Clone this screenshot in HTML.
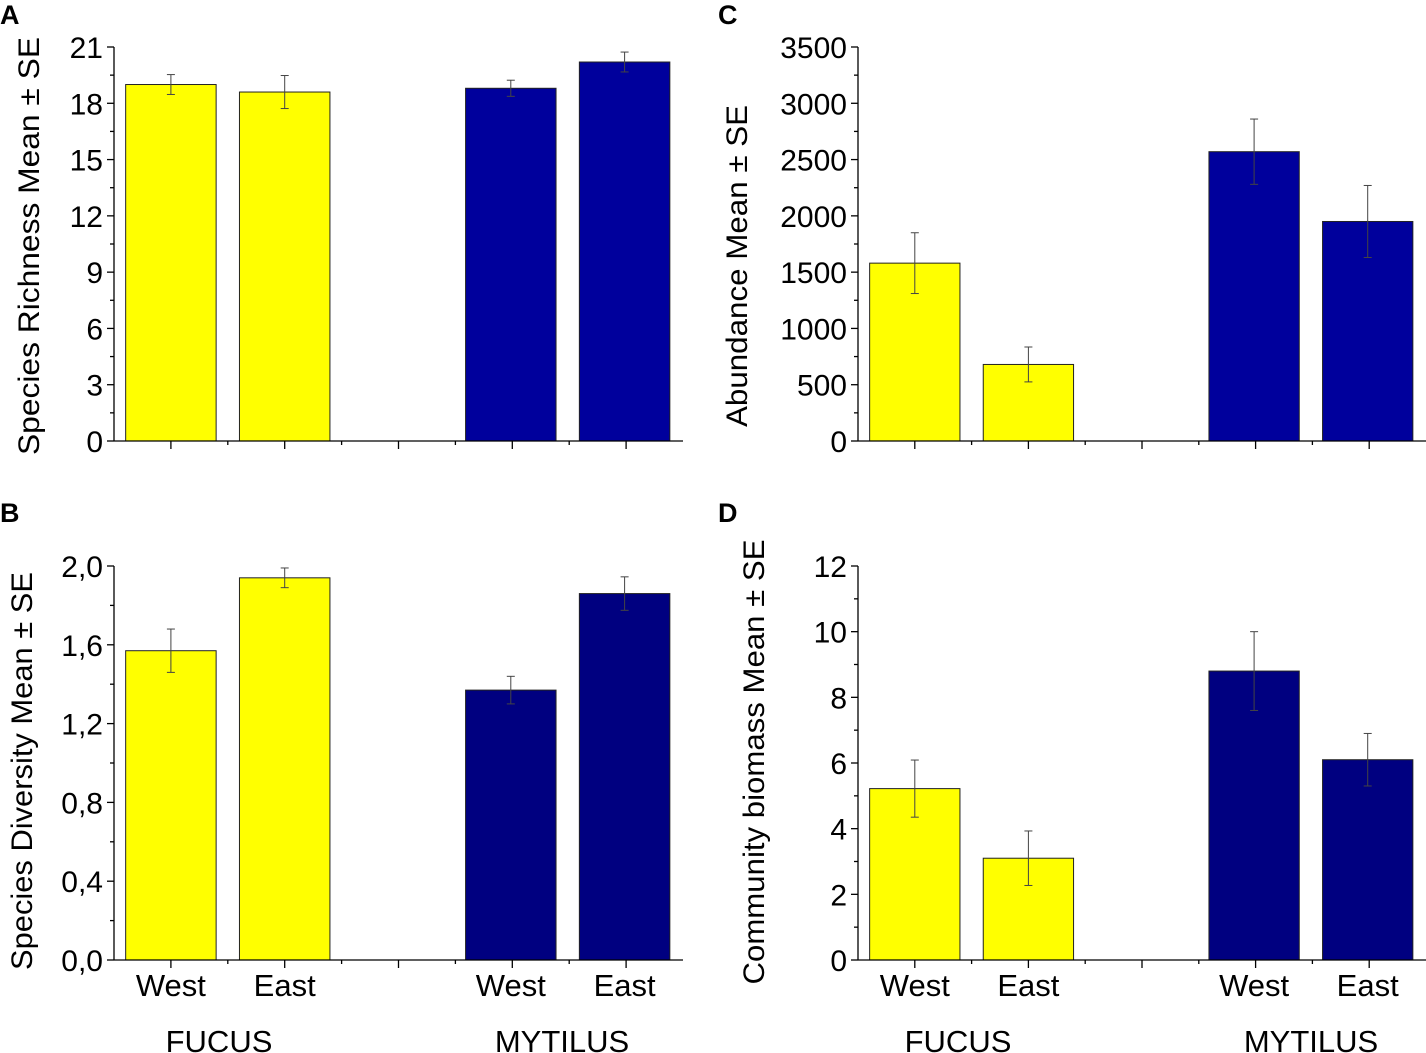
<!DOCTYPE html>
<html><head><meta charset="utf-8"><style>
html,body{margin:0;padding:0;background:#fff}
svg{display:block;font-family:"Liberation Sans",Arial,sans-serif}
</style></head><body>
<svg id="fig" width="1426" height="1053" viewBox="0 0 1426 1053" xmlns="http://www.w3.org/2000/svg"></svg>
<script>
const categories = ["West","East","West","East"];
const groups = ["FUCUS","MYTILUS"];
const richnessMean = [19.0, 18.6, 18.8, 20.2];
const richnessSE = [0.53, 0.88, 0.43, 0.53];
const diversityMean = [1.57, 1.94, 1.37, 1.86];
const diversitySE = [0.11, 0.05, 0.07, 0.085];
const abundanceMean = [1580, 680, 2570, 1950];
const abundanceSE = [270, 155, 290, 320];
const biomassMean = [5.22, 3.1, 8.8, 6.1];
const biomassSE = [0.87, 0.83, 1.2, 0.8];
const richnessTicks = ["0","3","6","9","12","15","18","21"];
const diversityTicks = ["0,0","0,4","0,8","1,2","1,6","2,0"];
const abundanceTicks = ["0","500","1000","1500","2000","2500","3000","3500"];
const biomassTicks = ["0","2","4","6","8","10","12"];

const NS="http://www.w3.org/2000/svg";
const svg=document.getElementById('fig');
function mk(tag,attrs,parent){const e=document.createElementNS(NS,tag);for(const k in attrs)e.setAttribute(k,attrs[k]);(parent||svg).appendChild(e);return e;}

function panel(o){
  const g=mk('g',{});
  
  
  const x0=o.x0,x1=o.x1,yT=o.yTop,yB=o.yBot,max=o.max;
  const unit=(x1-x0)/5;
  const xs=p=>x0+(p-0.5)*unit - (p>3?1.5:0);
  const ys=v=>yB-(v/max)*(yB-yT);
  const pos=[1,2,4,5];
  const cols=[o.yel,o.yel,o.blue,o.blue];
  for(let i=0;i<o.mean.length;i++){
    const bw=unit*0.795, cx=xs(pos[i]);
    const b=mk('rect',{x:cx-bw/2,y:ys(o.mean[i]),width:bw,height:yB-ys(o.mean[i]),fill:cols[i],stroke:'#222','stroke-width':1},g);
    
    
    const hi=ys(o.mean[i]+o.se[i]), lo=ys(o.mean[i]-o.se[i]);
    const eb=mk('g',{stroke:'#444','stroke-width':1},g);
    
    
    mk('line',{x1:cx,x2:cx,y1:hi,y2:lo},eb);
    mk('line',{x1:cx-4,x2:cx+4,y1:hi,y2:hi},eb);
    mk('line',{x1:cx-4,x2:cx+4,y1:lo,y2:lo},eb);
  }
  const ax=mk('g',{stroke:'#000','stroke-width':1.3},g);
  
  
  mk('line',{x1:x0,x2:x0,y1:yT,y2:yB},ax);
  mk('line',{x1:x0,x2:x1,y1:yB,y2:yB},ax);
  const n=o.ticks.length-1, step=max/n;
  for(let i=0;i<=n;i++){
    const y=ys(i*step);
    mk('line',{x1:x0-7,x2:x0,y1:y,y2:y},ax);
    if(i<n){const ym=ys((i+0.5)*step);mk('line',{x1:x0-4,x2:x0,y1:ym,y2:ym},ax);}
    const t=mk('text',{x:x0-11,y:y+11,'font-size':30,'text-anchor':'end',fill:'#000'},g);
    t.textContent=o.ticks[i];
    
    
  }
  const xt=p=>x0+(p-0.5)*unit;
  for(let p=1;p<=5;p++){mk('line',{x1:xt(p),x2:xt(p),y1:yB,y2:yB+8},ax);}
  for(let p=1;p<5;p++){mk('line',{x1:xt(p+0.5),x2:xt(p+0.5),y1:yB,y2:yB+4},ax);}
  if(o.xlabels){
    for(let i=0;i<4;i++){
      const t=mk('text',{x:xs(pos[i]),y:yB+36,'font-size':31,'text-anchor':'middle'},g);
      t.textContent=categories[i];
      
      
    }
    o.gx.forEach((gx,k)=>{
      const t=mk('text',{x:gx,y:yB+92,'font-size':31,'text-anchor':'middle'},g);
      t.textContent=groups[k];
      
      
    });
  }
  const yt=mk('text',{transform:`translate(${o.tx},${o.ty}) rotate(-90)`,'font-size':30,'text-anchor':'middle',textLength:o.tl,lengthAdjust:'spacingAndGlyphs'},g);
  yt.textContent=o.title;
  
  
  const L=mk('text',{x:o.lx,y:o.ly,'font-size':27,'font-weight':'bold'},g);
  L.textContent=o.letter;
  
  
}
panel({name:'panel-a-richness',key:'richness',x0:114,x1:683,yTop:47,yBot:441,max:21,mean:richnessMean,se:richnessSE,ticks:richnessTicks,yel:'#ffff00',blue:'#00009c',xlabels:false,title:'Species Richness  Mean ± SE',tx:39,ty:246,tl:418,letter:'A',lx:0,ly:24});
panel({name:'panel-b-diversity',key:'diversity',x0:114,x1:683,yTop:566,yBot:960,max:2.0,mean:diversityMean,se:diversitySE,ticks:diversityTicks,yel:'#ffff00',blue:'#000080',xlabels:true,gx:[219,562],title:'Species Diversity Mean ± SE',tx:32,ty:771,tl:398,letter:'B',lx:0,ly:522});
panel({name:'panel-c-abundance',key:'abundance',x0:858,x1:1426,yTop:47,yBot:441,max:3500,mean:abundanceMean,se:abundanceSE,ticks:abundanceTicks,yel:'#ffff00',blue:'#00009c',xlabels:false,title:'Abundance Mean ± SE',tx:747,ty:266,tl:322,letter:'C',lx:718,ly:24});
panel({name:'panel-d-biomass',key:'biomass',x0:858,x1:1426,yTop:566,yBot:960,max:12,mean:biomassMean,se:biomassSE,ticks:biomassTicks,yel:'#ffff00',blue:'#000080',xlabels:true,gx:[958,1311],title:'Community biomass Mean ± SE',tx:764,ty:762,tl:445,letter:'D',lx:718,ly:522});
</script>
</body></html>
